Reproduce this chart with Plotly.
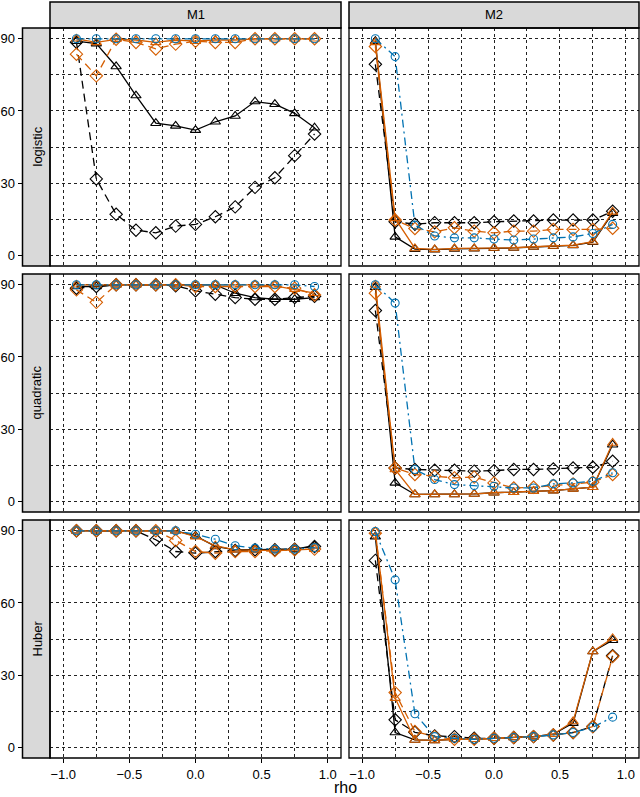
import plotly.graph_objects as go

W, H = 640, 797

rho = [-0.9, -0.75, -0.6, -0.45, -0.3, -0.15, 0.0, 0.15, 0.3, 0.45, 0.6, 0.75, 0.9]
row_labels = ["logistic", "quadratic", "Huber"]
col_labels = ["M1", "M2"]
x_ticks = [-1.0, -0.5, 0.0, 0.5, 1.0]
y_ticks = [0, 30, 60, 90]

# logistic / M1
log_m1_black_tri = [89, 88, 78.5, 66.4, 54.9, 53.8, 52, 55.5, 57.9, 63.9, 62.8, 59, 53]
log_m1_black_dia = [88.6, 31.7, 17, 10.4, 9.3, 12.1, 12.8, 16, 20.1, 28.2, 32.2, 41.4, 50.4]
log_m1_orange_tri = [90, 88.5, 89.8, 89.5, 88.5, 89.5, 89, 89.5, 89.5, 90, 90, 90, 90]
log_m1_orange_dia = [83.6, 74.6, 89.8, 88.5, 85.8, 87.8, 89, 88.5, 88.5, 90, 90, 90, 90]
log_m1_blue_circ = [90, 90, 90, 90, 90, 90, 90, 90, 90, 90, 90, 90, 90]
# logistic / M2
log_m2_black_tri = [89, 7.6, 2.5, 2.3, 2.6, 2.7, 2.9, 3.0, 3.4, 3.7, 4.1, 5.4, 17.5]
log_m2_black_dia = [79.4, 13.9, 12.9, 13.5, 13.5, 13.5, 13.9, 14.2, 14.2, 14.6, 14.6, 14.6, 18.3]
log_m2_orange_tri = [88.5, 15.3, 2.8, 2.4, 2.8, 2.8, 3.0, 3.1, 3.5, 3.8, 4.2, 5.6, 18]
log_m2_orange_dia = [86.8, 14.6, 11.1, 9.7, 11.4, 10, 9.3, 10, 10, 10.7, 10.7, 10.7, 11.2]
log_m2_blue_circ = [90, 82.6, 12.5, 8, 7.2, 7.2, 6.7, 6.3, 6.7, 7.2, 7.6, 9, 12.8]
# quadratic / M1
quad_m1_black_tri = [89.3, 89.3, 90, 90, 90, 90, 90, 90, 86.5, 84.7, 84, 84, 84.7]
quad_m1_black_dia = [88.6, 89.3, 90, 90, 90, 89.6, 87.5, 86.1, 84.7, 84, 84, 84.7, 85.2]
quad_m1_orange_tri = [90, 90, 90, 90, 90, 90, 90, 90, 90, 90, 89.6, 88.2, 86.5]
quad_m1_orange_dia = [87.9, 82.7, 90, 90, 90, 90, 89.3, 89.3, 89.3, 89.3, 89.3, 88.6, 85.8]
quad_m1_blue_circ = [90, 90, 90, 90, 90, 90, 90, 90, 90, 90, 90, 90, 89.3]
# quadratic / M2
quad_m2_black_tri = [89, 7.6, 2.8, 2.8, 2.8, 3.0, 3.5, 3.7, 4.2, 4.4, 5.1, 5.8, 23.5]
quad_m2_black_dia = [79.3, 13.8, 13.2, 12.9, 12.9, 12.5, 12.7, 13.2, 13.2, 13.4, 13.8, 14.1, 16.6]
quad_m2_orange_tri = [90, 13.2, 2.8, 2.8, 2.8, 3.0, 3.5, 3.7, 4.2, 4.4, 5.1, 5.8, 24.2]
quad_m2_orange_dia = [86.5, 13.8, 11.1, 10.4, 9.7, 10, 7.6, 5.5, 5.8, 6.5, 7.2, 7.9, 11.1]
quad_m2_blue_circ = [90, 82.4, 13.2, 9, 6.9, 6.5, 6.2, 5.5, 5.5, 7.2, 7.6, 8.3, 11.8]
# Huber / M1
hub_m1_black_tri = [90, 90, 90, 90, 90, 90, 87.9, 83.5, 82.1, 82.1, 82.1, 82.4, 83.8]
hub_m1_black_dia = [90, 90, 90, 90, 86.3, 81.4, 80.7, 81.4, 81.8, 82.1, 82.1, 82.4, 83.5]
hub_m1_orange_tri = [90, 90, 90, 90, 90, 90, 87.6, 83.8, 82.1, 81.8, 81.8, 82.1, 82.4]
hub_m1_orange_dia = [90, 90, 90, 90, 90, 86, 81.4, 80.7, 81.4, 81.4, 81.8, 82.1, 82.4]
hub_m1_blue_circ = [90, 90, 90, 90, 90, 90, 88.6, 86.5, 83.8, 82.8, 82.4, 82.4, 83]
# Huber / M2
hub_m2_black_tri = [87.6, 6.1, 3.0, 2.8, 3.3, 3.3, 3.7, 4.0, 4.4, 5.4, 10, 39.8, 44.5]
hub_m2_black_dia = [77.7, 11.4, 6.2, 4.7, 4.4, 3.7, 3.7, 4.0, 4.4, 5.1, 6.1, 8.6, 38.1]
hub_m2_orange_tri = [89.7, 20.4, 3.0, 2.8, 3.3, 3.3, 3.7, 4.0, 4.4, 5.4, 10.7, 39.8, 45.3]
hub_m2_orange_dia = [89, 22.7, 6.5, 4.4, 3.3, 3.3, 3.7, 4.0, 4.4, 5.1, 6.1, 8.6, 37.7]
hub_m2_blue_circ = [89.7, 69.6, 13.9, 4.4, 3.7, 3.3, 3.7, 4.0, 4.4, 5.1, 6.1, 8.3, 12.5]

panels = [
    [(log_m1_black_tri, log_m1_black_dia, log_m1_orange_tri, log_m1_orange_dia, log_m1_blue_circ),
     (log_m2_black_tri, log_m2_black_dia, log_m2_orange_tri, log_m2_orange_dia, log_m2_blue_circ)],
    [(quad_m1_black_tri, quad_m1_black_dia, quad_m1_orange_tri, quad_m1_orange_dia, quad_m1_blue_circ),
     (quad_m2_black_tri, quad_m2_black_dia, quad_m2_orange_tri, quad_m2_orange_dia, quad_m2_blue_circ)],
    [(hub_m1_black_tri, hub_m1_black_dia, hub_m1_orange_tri, hub_m1_orange_dia, hub_m1_blue_circ),
     (hub_m2_black_tri, hub_m2_black_dia, hub_m2_orange_tri, hub_m2_orange_dia, hub_m2_blue_circ)],
]

BLACK = "#000000"
ORANGE = "#D55E00"
BLUE = "#0072B2"
styles = [
    dict(color=BLACK, dash="solid", symbol="triangle-up-open", size=9),
    dict(color=BLACK, dash="8px,5px", symbol="diamond-open", size=9.5),
    dict(color=ORANGE, dash="solid", symbol="triangle-up-open", size=9),
    dict(color=ORANGE, dash="8px,5px", symbol="diamond-open", size=9.5),
    dict(color=BLUE, dash="8px,4px,2px,4px", symbol="circle-open", size=8),
]

col_px = [(50, 341), (349, 639)]
row_px = [(28, 266), (274, 512), (520, 758)]

def fx(p):
    return p / W

def fy(p):
    return 1 - p / H

FONT = "Liberation Sans, Arial, sans-serif"
GRID = dict(showgrid=True, gridcolor="#222222", gridwidth=0.8, griddash="3px,3px")

fig = go.Figure()
layout = {}
shapes = []
annotations = []

for r in range(3):
    for c in range(2):
        k = r * 2 + c + 1
        xs = "" if k == 1 else str(k)
        xname, yname = "x" + xs, "y" + xs
        for series, st in zip(panels[r][c], styles):
            fig.add_trace(go.Scatter(
                x=rho, y=series, xaxis=xname, yaxis=yname, mode="lines+markers",
                line=dict(color=st["color"], dash=st["dash"], width=1.3),
                marker=dict(symbol=st["symbol"], size=st["size"], color=st["color"],
                            line=dict(width=1.1, color=st["color"])),
                showlegend=False, hoverinfo="skip", cliponaxis=False))
        bottom = (r == 2)
        layout["xaxis" + xs] = dict(
            domain=[fx(col_px[c][0]), fx(col_px[c][1])], anchor=yname,
            range=[-1.1, 1.1], tickvals=x_ticks, tickformat=".1f",
            showticklabels=bottom, ticks="outside" if bottom else "", ticklen=4,
            tickcolor="black", tickfont=dict(family=FONT, size=13, color="black"),
            zeroline=False, showline=False,
            minor=dict(dtick=0.25, tick0=0, showgrid=True, gridcolor="#222222",
                       gridwidth=0.8, griddash="3px,3px", ticks=""),
            **GRID)
        ydict = dict(
            domain=[fy(row_px[r][1]), fy(row_px[r][0])],
            range=[-4.5, 94.5], tickvals=y_ticks, zeroline=False, showline=False,
            tickfont=dict(family=FONT, size=13, color="black"), tickcolor="black",
            minor=dict(dtick=15, tick0=0, showgrid=True, gridcolor="#222222",
                       gridwidth=0.8, griddash="3px,3px", ticks=""),
            **GRID)
        if c == 0:
            ydict.update(anchor="free", position=fx(22.5), ticks="outside", ticklen=5,
                         showticklabels=True)
        else:
            ydict.update(anchor=xname, ticks="", showticklabels=False)
        layout["yaxis" + xs] = ydict
        # panel border
        shapes.append(dict(type="rect", xref=xname + " domain", yref=yname + " domain",
                           x0=0, x1=1, y0=0, y1=1, line=dict(color="black", width=1.3),
                           fillcolor="rgba(0,0,0,0)", layer="above"))

# top strips
for c in range(2):
    shapes.append(dict(type="rect", xref="paper", yref="paper",
                       x0=fx(col_px[c][0]), x1=fx(col_px[c][1]), y0=fy(28), y1=fy(2),
                       fillcolor="#D9D9D9", line=dict(color="black", width=1.5), layer="below"))
    annotations.append(dict(text=col_labels[c], xref="paper", yref="paper",
                            x=(fx(col_px[c][0]) + fx(col_px[c][1])) / 2, y=fy(15),
                            showarrow=False, font=dict(family=FONT, size=13, color="black"),
                            xanchor="center", yanchor="middle"))
# left strips
for r in range(3):
    shapes.append(dict(type="rect", xref="paper", yref="paper",
                       x0=fx(22.5), x1=fx(50), y0=fy(row_px[r][1]), y1=fy(row_px[r][0]),
                       fillcolor="#D9D9D9", line=dict(color="black", width=1.5), layer="below"))
    annotations.append(dict(text=row_labels[r], xref="paper", yref="paper",
                            x=fx(36.5), y=(fy(row_px[r][0]) + fy(row_px[r][1])) / 2,
                            textangle=-90, showarrow=False,
                            font=dict(family=FONT, size=13, color="black"),
                            xanchor="center", yanchor="middle"))

annotations.append(dict(text="rho", xref="paper", yref="paper", x=fx(345), y=fy(787),
                        showarrow=False, font=dict(family=FONT, size=16, color="black"),
                        xanchor="center", yanchor="middle"))

fig.update_layout(
    width=W, height=H, margin=dict(l=0, r=0, t=0, b=0),
    paper_bgcolor="white", plot_bgcolor="white",
    shapes=shapes, annotations=annotations, **layout)

fig.write_html("out.html", config={"displayModeBar": False},
               post_script="document.body.style.margin='0px';document.body.style.overflow='hidden';")
